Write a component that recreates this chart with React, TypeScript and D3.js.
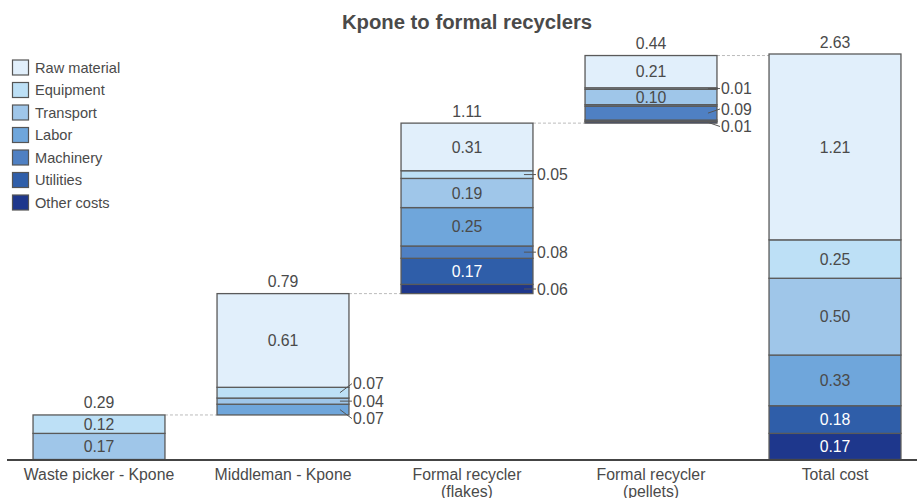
import React from "react";
import * as d3 from "d3";

const categories = ["Waste picker - Kpone", "Middleman - Kpone", "Formal recycler\n(flakes)", "Formal recycler\n(pellets)", "Total cost"];
const costTypes = ["Raw material", "Equipment", "Transport", "Labor", "Machinery", "Utilities", "Other costs"];
const rawMaterial = [0, 0.61, 0.31, 0.21, 1.21];
const equipment = [0.12, 0.07, 0.05, 0.01, 0.25];
const transport = [0.17, 0.04, 0.19, 0.1, 0.5];
const labor = [0, 0.07, 0.25, 0.01, 0.33];
const machinery = [0, 0, 0.08, 0.09, 0];
const utilities = [0, 0, 0.17, 0.01, 0.18];
const otherCosts = [0, 0, 0.06, 0.01, 0.17];
const barTotals = [0.29, 0.79, 1.11, 0.44, 2.63];
const isTotalBar = [false, false, false, false, true];
// segments drawn without a value label: [category index, cost type]
const unlabeled: [number, string][] = [[3, "Labor"], [3, "Utilities"]];

const seriesValues: Record<string, number[]> = {
  "Raw material": rawMaterial,
  Equipment: equipment,
  Transport: transport,
  Labor: labor,
  Machinery: machinery,
  Utilities: utilities,
  "Other costs": otherCosts,
};

const colors = ["#e1effb", "#bde0f6", "#9fc6e9", "#6fa6db", "#4f80c3", "#2f5ea9", "#1e378c"];
const whiteText = new Set(["Utilities", "Other costs"]);

const W = 917;
const H = 498;
const FONT = "'Liberation Sans', Arial, sans-serif";
const TXT = "#4a4a4a";
const FS = 15.8;

export default function App() {
  const x = d3.scaleBand<string>().domain(categories).range([7, 927]).paddingInner(0.283).paddingOuter(0.1415);
  const stackOrder = [...costTypes].reverse(); // bottom to top

  const sums = categories.map((_, i) => d3.sum(costTypes, (c) => seriesValues[c][i]));
  const bases: number[] = [];
  let acc = 0;
  categories.forEach((_, i) => {
    if (isTotalBar[i]) bases.push(0);
    else {
      bases.push(acc);
      acc += sums[i];
    }
  });
  const maxTop = d3.max(categories, (_, i) => bases[i] + sums[i]) as number;
  const y = d3.scaleLinear().domain([0, maxTop]).range([459.5, 54]);

  const bw = x.bandwidth();

  const bars = categories.map((cat, i) => {
    const x0 = x(cat) as number;
    let cum = bases[i];
    const segs: any[] = [];
    stackOrder.forEach((c) => {
      const v = seriesValues[c][i];
      if (v <= 0) return;
      const lo = cum;
      const hi = cum + v;
      cum = hi;
      const labeled = !unlabeled.some(([ci, ct]) => ci === i && ct === c);
      segs.push({ c, v, lo, hi, labeled, color: colors[costTypes.indexOf(c)] });
    });
    const ext = segs
      .filter((s) => s.labeled && s.v < 0.1)
      .map((s) => ({ s, yc: y((s.lo + s.hi) / 2), ly: y((s.lo + s.hi) / 2) }))
      .sort((a, b) => a.yc - b.yc);
    for (let it = 0; it < 100; it++) {
      for (let k = 1; k < ext.length; k++) {
        const gap = ext[k].ly - ext[k - 1].ly;
        if (gap < 17.5) {
          const d = (17.5 - gap) / 2;
          ext[k].ly += d;
          ext[k - 1].ly -= d;
        }
      }
    }
    return { cat, i, x0, segs, ext, top: bases[i] + sums[i] };
  });

  return (
    <svg width={W} height={H} style={{ position: "absolute", left: 0, top: 0, fontFamily: FONT }}>
      <rect width={W} height={H} fill="#fff" />
      <text x={467} y={29} textAnchor="middle" fontSize={20.3} fontWeight="bold" fill="#4a4a4a">
        Kpone to formal recyclers
      </text>

      {bars.slice(0, -1).map((b, k) => {
        const nx = bars[k + 1].x0;
        return (
          <line key={"c" + k} x1={b.x0 + bw} x2={nx} y1={y(b.top)} y2={y(b.top)} stroke="#bbb" strokeWidth={1} strokeDasharray="3,2" />
        );
      })}

      {bars.map((b) => (
        <g key={b.cat}>
          {b.segs.map((s: any) => (
            <rect key={s.c} x={b.x0} width={bw} y={y(s.hi)} height={y(s.lo) - y(s.hi)} fill={s.color} stroke="#5a5a5a" strokeWidth={1.3} />
          ))}
          {b.segs
            .filter((s: any) => s.labeled && s.v >= 0.1)
            .map((s: any) => (
              <text key={"t" + s.c} x={b.x0 + bw / 2} y={y((s.lo + s.hi) / 2)} dy="0.36em" textAnchor="middle" fontSize={FS} fill={whiteText.has(s.c) ? "#fff" : TXT}>
                {s.v.toFixed(2)}
              </text>
            ))}
          {b.ext.map((e: any) => (
            <g key={"e" + e.s.c}>
              <line x1={b.x0 + bw - 9} y1={e.yc} x2={b.x0 + bw + 3} y2={e.ly} stroke="#555" strokeWidth={1} />
              <text x={b.x0 + bw + 4} y={e.ly} dy="0.36em" fontSize={FS} fill={TXT}>
                {e.s.v.toFixed(2)}
              </text>
            </g>
          ))}
          <text x={b.x0 + bw / 2} y={y(b.top) - 6.5} textAnchor="middle" fontSize={FS} fill={TXT}>
            {barTotals[b.i].toFixed(2)}
          </text>
          {b.cat.split("\n").map((ln, li) => (
            <text key={li} x={b.x0 + bw / 2} y={479.5 + li * 17} textAnchor="middle" fontSize={FS} fill={TXT}>
              {ln}
            </text>
          ))}
        </g>
      ))}

      <line x1={7} x2={917} y1={460} y2={460} stroke="#444" strokeWidth={2} />

      {costTypes.map((c, k) => (
        <g key={c} transform={`translate(12, ${60 + k * 22.5})`}>
          <rect x={0.5} y={0} width={16} height={15} fill={colors[k]} stroke="#555" strokeWidth={1.2} />
          <text x={23} y={7.5} dy="0.36em" fontSize={14.6} fill={TXT}>
            {c}
          </text>
        </g>
      ))}
    </svg>
  );
}
